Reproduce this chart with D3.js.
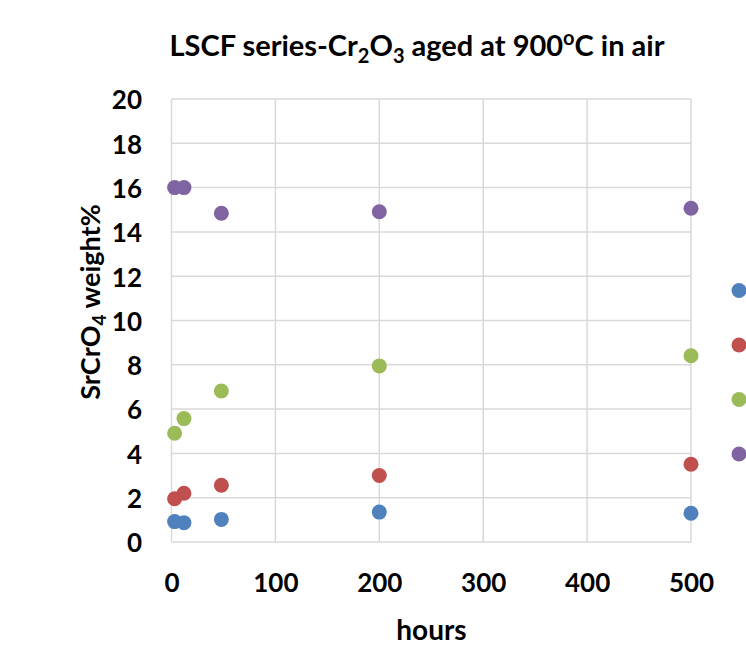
<!DOCTYPE html>
<html>
<head>
<meta charset="utf-8">
<script src="https://cdn.jsdelivr.net/npm/d3@7"></script>
<style>
  html, body { margin: 0; padding: 0; background: #fff; }
  svg { display: block; font-family: Lato, "Open Sans", sans-serif; font-weight: bold; }
</style>
</head>
<body>
<svg id="chart" width="746" height="664"></svg>
<script>
// ---- data ----
const hours = [3, 12, 48, 200, 500];
const seriesColors = ["#4F81BD", "#C0504D", "#9BBB59", "#8064A2"];
const seriesA = [0.92, 0.87, 1.02, 1.35, 1.30];
const seriesB = [1.95, 2.20, 2.56, 3.00, 3.51];
const seriesC = [4.91, 5.57, 6.82, 7.95, 8.41];
const seriesD = [16.0, 16.0, 14.84, 14.91, 15.07];
const xTicks = [0, 100, 200, 300, 400, 500];
const yTicks = [0, 2, 4, 6, 8, 10, 12, 14, 16, 18, 20];

const allSeries = [seriesA, seriesB, seriesC, seriesD];

const svg = d3.select("#chart");
const x = d3.scaleLinear().domain([0, 500]).range([171.5, 691]);
const y = d3.scaleLinear().domain([0, 20]).range([542, 99]);

const grid = "#d9d9d9";

// gridlines
svg.append("g").selectAll("line").data(yTicks).join("line")
  .attr("x1", x(0)).attr("x2", x(500))
  .attr("y1", d => y(d)).attr("y2", d => y(d))
  .attr("stroke", grid).attr("stroke-width", 1.5);
svg.append("g").selectAll("line").data(xTicks).join("line")
  .attr("y1", y(0)).attr("y2", y(20))
  .attr("x1", d => x(d)).attr("x2", d => x(d))
  .attr("stroke", grid).attr("stroke-width", 1.5);

// axes (labels only)
const xAxis = d3.axisBottom(x).tickValues(xTicks).tickSize(0).tickPadding(0).tickFormat(d3.format("d"));
const gx = svg.append("g").attr("transform", `translate(0, 592)`).call(xAxis);
gx.select(".domain").remove();
gx.selectAll("text").attr("dy", 0).attr("font-size", 26).attr("font-family", "Lato, sans-serif")
  .attr("font-weight", "bold").attr("fill", "#000");

const yAxis = d3.axisLeft(y).tickValues(yTicks).tickSize(0).tickPadding(0).tickFormat(d3.format("d"));
const gy = svg.append("g").attr("transform", `translate(142, 0)`).call(yAxis);
gy.select(".domain").remove();
gy.selectAll("text").attr("dy", "0.38em").attr("font-size", 26).attr("font-family", "Lato, sans-serif")
  .attr("font-weight", "bold").attr("fill", "#000");

// points
allSeries.forEach((vals, i) => {
  svg.append("g").selectAll("circle").data(vals).join("circle")
    .attr("cx", (d, j) => x(hours[j]))
    .attr("cy", d => y(d))
    .attr("r", 7.5)
    .attr("fill", seriesColors[i]);
});

// legend markers (legend labels lie beyond the right edge, as in the reference)
const legY = d3.scaleLinear().domain([0, 3]).range([290.5, 454]);
svg.append("g").selectAll("circle").data(seriesColors).join("circle")
  .attr("cx", 739).attr("cy", (d, i) => legY(i)).attr("r", 7.5).attr("fill", d => d);

// title
const title = svg.append("text").attr("x", 417).attr("y", 56).attr("text-anchor", "middle")
  .attr("font-size", 29).attr("fill", "#000");
title.append("tspan").text("LSCF series-Cr");
title.append("tspan").attr("font-size", 20).attr("dy", 7).text("2");
title.append("tspan").attr("dy", -7).text("O");
title.append("tspan").attr("font-size", 20).attr("dy", 7).text("3");
title.append("tspan").attr("dy", -7).text(" aged at 900");
title.append("tspan").attr("font-size", 20).attr("dy", -11).text("o");
title.append("tspan").attr("dy", 11).text("C in air");

// x axis title
svg.append("text").attr("x", 431.5).attr("y", 640).attr("text-anchor", "middle")
  .attr("font-size", 28).attr("fill", "#000").text("hours");

// y axis title
const yt = svg.append("text").attr("transform", "translate(100, 302) rotate(-90)")
  .attr("text-anchor", "middle").attr("font-size", 27).attr("fill", "#000");
yt.append("tspan").text("SrCrO");
yt.append("tspan").attr("font-size", 19).attr("dy", 6).text("4");
yt.append("tspan").attr("dy", -6).text(" weight%");
</script>
</body>
</html>
